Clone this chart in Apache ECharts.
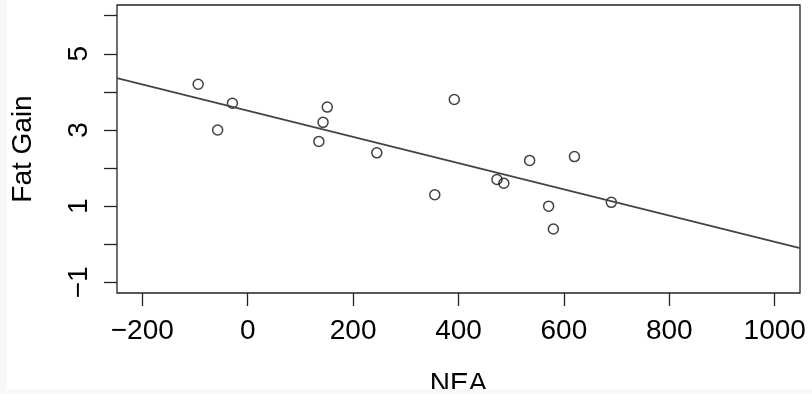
<!DOCTYPE html>
<html><head><meta charset="utf-8">
<script src="https://cdn.jsdelivr.net/npm/echarts@6/dist/echarts.min.js"></script>
<style>
html,body{margin:0;padding:0;background:#f8f8f8;width:812px;height:394px;overflow:hidden}
#c{position:absolute;left:7px;top:0;width:805px;height:389px;background:#fff;overflow:hidden}
</style></head>
<body><div id="c"></div>
<script>
const nea = [-94, -57, -29, 135, 143, 151, 245, 355, 392, 473, 486, 535, 571, 580, 620, 690];
const fatGain = [4.2, 3.0, 3.7, 2.7, 3.2, 3.6, 2.4, 1.3, 3.8, 1.7, 1.6, 2.2, 1.0, 0.4, 2.3, 1.1];
const xTicks = [-200, 0, 200, 400, 600, 800, 1000];
const yTicks = [-1, 0, 1, 2, 3, 4, 5, 6];
const yLabels = [-1, 1, 3, 5];
const xLim = [-248, 1048];
const yLim = [-1.28, 6.28];

// least squares fit
const n = nea.length;
const mx = nea.reduce((a,b)=>a+b,0)/n, my = fatGain.reduce((a,b)=>a+b,0)/n;
let sxy=0, sxx=0;
for (let i=0;i<n;i++){ sxy += (nea[i]-mx)*(fatGain[i]-my); sxx += (nea[i]-mx)**2; }
const b1 = sxy/sxx, b0 = my - b1*mx;
const fitLine = xLim.map(x => [x, b0 + b1*x]);

const fmt = v => String(v).replace('-', '\u2212');
const font = 'Liberation Sans, Arial, sans-serif';
const chart = echarts.init(document.getElementById('c'), null, {renderer:'canvas'});
chart.setOption({
  animation:false,
  grid:{left:110, right:12, top:5, bottom:96, show:true, borderColor:'#222', borderWidth:1.3,
        backgroundColor:'transparent', containLabel:false, outerBoundsMode:'none'},
  xAxis:{
    type:'value', min:xLim[0], max:xLim[1],
    name:'NEA', nameLocation:'middle', nameGap:77,
    nameTextStyle:{fontFamily:font, fontSize:28, color:'#000'},
    axisLine:{show:false, onZero:false}, splitLine:{show:false},
    axisTick:{show:true, inside:false, length:13, lineStyle:{color:'#222', width:1.3}, customValues:xTicks},
    axisLabel:{fontFamily:font, fontSize:28, color:'#000', margin:24, customValues:xTicks, formatter:fmt}
  },
  yAxis:{
    type:'value', min:yLim[0], max:yLim[1],
    name:'Fat Gain', nameLocation:'middle', nameGap:80, nameRotate:90,
    nameTextStyle:{fontFamily:font, fontSize:28, color:'#000'},
    axisLine:{show:false, onZero:false}, splitLine:{show:false},
    axisTick:{show:true, inside:false, length:13, lineStyle:{color:'#222', width:1.3}, customValues:yTicks},
    axisLabel:{fontFamily:font, fontSize:28, color:'#000', margin:24, rotate:90, customValues:yLabels, formatter:fmt}
  },
  series:[
    {type:'line', data:fitLine, symbol:'none', lineStyle:{color:'#444', width:1.7}, silent:true, clip:true},
    {type:'scatter', data:nea.map((x,i)=>[x, fatGain[i]]), symbol:'circle', symbolSize:10,
     itemStyle:{color:'rgba(0,0,0,0)', borderColor:'#111', borderWidth:1.5}}
  ]
});
</script></body></html>
